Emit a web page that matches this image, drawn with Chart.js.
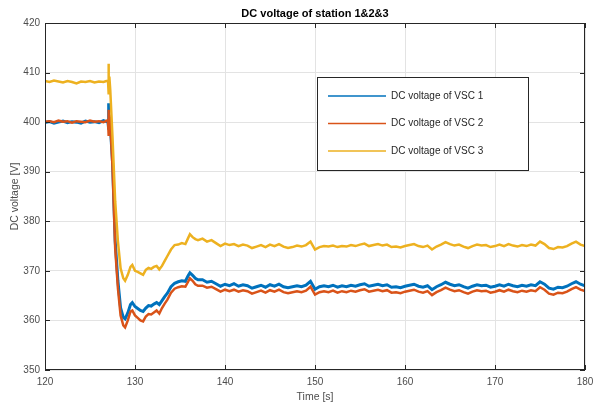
<!DOCTYPE html>
<html>
<head>
<meta charset="utf-8">
<script src="https://cdn.jsdelivr.net/npm/chart.js@4.4.1/dist/chart.umd.min.js"></script>
<style>
  html, body { margin: 0; padding: 0; background: #fff; overflow: hidden; }
  #grafico { display: block; }
</style>
</head>
<body>
<canvas id="grafico" width="593" height="403"></canvas>
<script>
// --- Dados ---
const TITULO = 'DC voltage of station 1&2&3';
const NOMES = ['DC voltage of VSC 1', 'DC voltage of VSC 2', 'DC voltage of VSC 3'];
const CORES = ['#0072BD', '#D95319', '#EDB120'];
const TICKS_X = [120, 130, 140, 150, 160, 170, 180];
const TICKS_Y = [350, 360, 370, 380, 390, 400, 410, 420];

const tempo = [
  120, 120.5, 121, 121.5, 122, 122.5, 123, 123.5, 124, 124.5, 125, 125.5, 126, 126.5, 127,
  127.05, 127.1, 127.15, 127.25, 127.5, 127.8, 128.1, 128.4, 128.7, 128.9, 129.2, 129.5,
  129.7, 130, 130.3, 130.6, 130.9, 131.2, 131.5, 131.8, 132.1, 132.4, 132.7, 133, 133.3,
  133.6, 134, 134.4, 134.8, 135.2, 135.6, 135.9, 136.1, 136.4, 136.7, 137,
  137.5, 138, 138.5, 139, 139.5, 140, 140.5, 141, 141.5, 142, 142.5, 143, 143.5, 144, 144.5,
  145, 145.5, 146, 146.5, 147, 147.5, 148, 148.5, 149, 149.5, 150, 150.5, 151, 151.5, 152,
  152.5, 153, 153.5, 154, 154.5, 155, 155.5, 156, 156.5, 157, 157.5, 158, 158.5, 159, 159.5,
  160, 160.5, 161, 161.5, 162, 162.5, 163, 163.5, 164, 164.5, 165, 165.5, 166, 166.5, 167,
  167.5, 168, 168.5, 169, 169.5, 170, 170.5, 171, 171.5, 172, 172.5, 173, 173.5, 174, 174.5,
  175, 175.5, 176, 176.5, 177, 177.5, 178, 178.5, 179, 179.5, 180
];

const vsc1 = [
  399.9, 400.1, 399.8, 400.0, 400.2, 399.9, 400.1, 400.0, 399.8, 400.2, 400.0, 400.1, 399.9, 400.3, 400.0,
  403.8, 398.5, 401.0, 399.5, 392, 376, 368, 362.5, 360.6, 360.3, 361.5, 363.2,
  363.6, 362.8, 362.4, 362.0, 361.8, 362.5, 363.0, 362.9, 363.3, 363.6, 363.2, 364.0, 364.8,
  365.5, 366.8, 367.5, 367.8, 368.0, 367.9, 369.0, 369.6, 369.1, 368.5, 368.2,
  368.2, 367.7, 367.9, 367.4, 366.9, 367.3, 367.0, 367.4, 366.9, 367.2, 367.0, 366.5, 366.8, 367.1, 366.7,
  367.2, 366.9, 367.3, 366.8, 366.6, 366.8, 367.0, 366.8, 367.1, 367.9, 366.3, 366.8, 367.0, 366.8, 367.1,
  366.7, 367.0, 366.8, 367.1, 366.9, 367.2, 367.4, 366.9, 367.1, 367.3, 367.0, 367.2, 366.7, 366.8, 366.6,
  366.9, 367.1, 367.3, 366.9, 366.7, 367.0, 366.2, 366.8, 367.2, 367.7, 367.3, 367.0, 367.2, 366.8, 366.5,
  366.9, 367.2, 367.0, 367.1, 366.7, 366.9, 367.2, 366.9, 367.3, 367.0, 366.8, 367.1, 366.9, 367.2, 367.0,
  367.8, 367.3, 366.5, 366.3, 366.7, 366.6, 366.9, 367.4, 367.8, 367.3, 367.0
];

const vsc2 = [
  400.1, 400.2, 400.0, 400.3, 400.1, 400.2, 399.9, 400.2, 400.1, 400.0, 400.3, 400.1, 400.2, 400.0, 400.4,
  402.5, 397.2, 401.5, 399.8, 391, 374.5, 366.5, 361.0, 359.0, 358.6, 360.0, 361.8,
  362.0, 361.0, 360.5, 360.0, 359.8, 360.8, 361.3, 361.2, 361.6, 362.0, 361.4, 362.5, 363.4,
  364.2, 365.6, 366.4, 366.7, 366.9, 366.8, 367.8, 368.5, 368.0, 367.3, 367.0,
  367.0, 366.6, 366.8, 366.3, 365.8, 366.2, 365.9, 366.2, 365.8, 366.1, 365.9, 365.4, 365.7, 366.0, 365.6,
  366.1, 365.8, 366.2, 365.7, 365.5, 365.7, 365.9, 365.7, 366.0, 366.8, 365.2, 365.7, 365.9, 365.7, 366.0,
  365.6, 365.9, 365.7, 366.0, 365.8, 366.1, 366.3, 365.8, 366.0, 366.2, 365.9, 366.1, 365.6, 365.7, 365.5,
  365.8, 366.0, 366.2, 365.8, 365.6, 365.9, 365.1, 365.7, 366.1, 366.6, 366.2, 365.9, 366.1, 365.7, 365.4,
  365.8, 366.1, 365.9, 366.0, 365.6, 365.8, 366.1, 365.8, 366.2, 365.9, 365.7, 366.0, 365.8, 366.1, 365.9,
  366.7, 366.2, 365.4, 365.2, 365.6, 365.5, 365.8, 366.3, 366.7, 366.2, 365.9
];

const vsc3 = [
  408.3, 408.1, 408.4, 408.2, 408.0, 408.3, 408.1, 407.8, 408.2, 408.1, 408.3, 408.0, 408.2, 408.1, 408.4,
  411.8, 405.6, 409.2, 406.5, 397, 384, 376, 370.5, 368.5, 368.0, 369.2, 370.8,
  371.2, 370.0, 369.8, 369.5, 369.2, 370.2, 370.6, 370.4, 370.8, 371.0, 370.3, 371.0, 372.0,
  373.0, 374.3, 375.2, 375.3, 375.6, 375.4, 376.6, 377.4, 376.8, 376.4, 376.2,
  376.5, 375.9, 376.2, 375.6, 375.0, 375.5, 375.2, 375.4, 375.0, 375.3, 375.1, 374.6, 374.9, 375.2, 374.8,
  375.3, 375.0, 375.4, 374.9, 374.6, 374.8, 375.1, 374.9, 375.2, 375.9, 374.3, 374.8, 375.0, 374.9, 375.1,
  374.8, 375.0, 374.9, 375.2, 375.0, 375.3, 375.5, 375.0, 375.2, 375.4, 375.1, 375.3, 374.8, 374.9, 374.7,
  375.0, 375.2, 375.4, 375.0, 374.8, 375.1, 374.3, 374.9, 375.3, 375.8, 375.4, 375.1, 375.3, 374.9, 374.6,
  375.0, 375.3, 375.1, 375.2, 374.8, 375.0, 375.3, 375.0, 375.4, 375.1, 374.9, 375.2, 375.0, 375.3, 375.1,
  375.9, 375.4, 374.6, 374.4, 374.8, 374.7, 375.0, 375.5, 375.9, 375.3, 375.0
];

// --- Plugin: título, caixa dos eixos e legenda ao estilo MATLAB ---
const estiloMatlab = {
  id: 'estiloMatlab',
  afterDatasetsDraw(chart) {
    const { ctx, chartArea: a, scales } = chart;
    ctx.save();

    // caixa e marcas interiores
    ctx.strokeStyle = '#262626';
    ctx.lineWidth = 1;
    ctx.strokeRect(a.left + 0.5, a.top + 0.5, a.right - a.left - 1, a.bottom - a.top - 1);
    ctx.beginPath();
    TICKS_X.forEach(v => {
      const x = Math.round(scales.x.getPixelForValue(v)) + 0.5;
      ctx.moveTo(x, a.bottom); ctx.lineTo(x, a.bottom - 5);
      ctx.moveTo(x, a.top); ctx.lineTo(x, a.top + 5);
    });
    TICKS_Y.forEach(v => {
      const y = Math.round(scales.y.getPixelForValue(v)) + 0.5;
      ctx.moveTo(a.left, y); ctx.lineTo(a.left + 5, y);
      ctx.moveTo(a.right, y); ctx.lineTo(a.right - 5, y);
    });
    ctx.stroke();

    // título
    ctx.fillStyle = '#000';
    ctx.font = 'bold 11px "Liberation Sans", Arial, sans-serif';
    ctx.textAlign = 'center';
    ctx.textBaseline = 'middle';
    ctx.fillText(TITULO, (a.left + a.right) / 2, 14);

    // legenda
    const lx = 317, ly = 77, lw = 211, lh = 93;
    ctx.fillStyle = '#fff';
    ctx.fillRect(lx, ly, lw, lh);
    ctx.strokeStyle = '#262626';
    ctx.strokeRect(lx + 0.5, ly + 0.5, lw, lh);
    ctx.font = '10px "Liberation Sans", Arial, sans-serif';
    ctx.textAlign = 'left';
    NOMES.forEach((nome, i) => {
      const y = 96 + i * 27.5;
      ctx.strokeStyle = CORES[i];
      ctx.lineWidth = 1.5;
      ctx.beginPath();
      ctx.moveTo(328, y); ctx.lineTo(386, y);
      ctx.stroke();
      ctx.fillStyle = '#262626';
      ctx.fillText(nome, 391, y);
    });
    ctx.restore();
  }
};

const series = [vsc1, vsc2, vsc3];

new Chart(document.getElementById('grafico'), {
  type: 'line',
  data: {
    datasets: series.map((s, i) => ({
      label: NOMES[i],
      data: tempo.map((t, k) => ({ x: t, y: s[k] })),
      borderColor: CORES[i],
      borderWidth: i === 0 ? 3 : 2.5,
      pointRadius: 0,
      tension: 0,
      order: 2 - i
    }))
  },
  options: {
    responsive: false,
    animation: false,
    devicePixelRatio: 1,
    layout: { padding: { top: 23, right: 8, left: 0, bottom: 0 } },
    plugins: { legend: { display: false }, tooltip: { enabled: false } },
    scales: {
      x: {
        type: 'linear', min: 120, max: 180,
        afterBuildTicks: s => { s.ticks = TICKS_X.map(v => ({ value: v })); },
        afterFit: s => { s.height = 33; s.paddingLeft = 0; s.paddingRight = 0; },
        grid: { color: '#e3e3e3', drawTicks: false },
        border: { display: false },
        ticks: { color: '#4d4d4d', font: { size: 10, family: '"Liberation Sans", Arial, sans-serif' }, padding: 6, maxRotation: 0 },
        title: { display: true, text: 'Time [s]', color: '#4d4d4d', font: { size: 10.5, family: '"Liberation Sans", Arial, sans-serif' }, padding: { top: 0, bottom: 0 } }
      },
      y: {
        min: 350, max: 420,
        afterBuildTicks: s => { s.ticks = TICKS_Y.map(v => ({ value: v })); },
        afterFit: s => { s.width = 45; s.paddingTop = 0; s.paddingBottom = 0; },
        grid: { color: '#e3e3e3', drawTicks: false },
        border: { display: false },
        ticks: { color: '#4d4d4d', font: { size: 10, family: '"Liberation Sans", Arial, sans-serif' }, padding: 5 },
        title: { display: true, text: 'DC voltage [V]', color: '#4d4d4d', font: { size: 10.5, family: '"Liberation Sans", Arial, sans-serif' }, padding: { top: 9, bottom: 0 } }
      }
    }
  },
  plugins: [estiloMatlab]
});
</script>
</body>
</html>
